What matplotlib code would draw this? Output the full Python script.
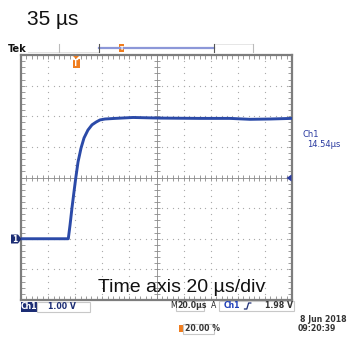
import matplotlib
matplotlib.use('Agg')
import matplotlib.pyplot as plt
from matplotlib.patches import Rectangle, Polygon
import numpy as np

# ---- data ----
time_us = [0, 34.9, 36.2, 37.6, 39.1, 40.4, 42.1, 44.3, 46.5, 49.4, 52.4, 55.4,
           58.3, 62.0, 69.4, 82.7, 102.6, 132.1, 154.2, 169.0, 183.8, 200]
volts = [0.0, 0.0, 0.45, 1.00, 1.53, 1.98, 2.51, 2.96, 3.29, 3.55, 3.72, 3.81,
         3.88, 3.91, 3.93, 3.96, 3.94, 3.93, 3.93, 3.90, 3.91, 3.93]
time_per_div = 20      # µs/div
volts_per_div = 1.0    # V/div
n_hdiv, n_vdiv = 10, 8
ground_div = -2        # ground marker position (divisions from centre)

title_text = '35 µs'
caption_text = 'Time axis 20 µs/div'
ch_scale = '1.00 V'
timebase = '20.0µs'
trig_level = '1.98 V'
trig_pos = '20.00 %'
meas_label = ['Ch1', '14.54µs']
date_lines = ['8 Jun 2018', '09:20:39']

W, H = 353, 338
fig = plt.figure(figsize=(W / 100, H / 100), dpi=100)
fig.patch.set_facecolor('white')

# ---- scope screen ----
L, T, R, B = 21, 55, 292, 300
ax = fig.add_axes([L / W, 1 - B / H, (R - L) / W, (B - T) / H])
xmax = n_hdiv * time_per_div
ymin = (-n_vdiv / 2 - ground_div) * volts_per_div
ymax = ymin + n_vdiv * volts_per_div
ax.set_xlim(0, xmax)
ax.set_ylim(ymin, ymax)
ax.set_facecolor('white')
for s in ax.spines.values():
    s.set_color('#7d7d7d')
    s.set_linewidth(1.6)
ax.set_xticks(np.arange(0, xmax + 0.1, time_per_div))
ax.set_xticks(np.arange(0, xmax + 0.1, time_per_div / 5), minor=True)
ax.set_yticks(np.arange(ymin, ymax + 0.01, volts_per_div))
ax.set_yticks(np.arange(ymin, ymax + 0.01, volts_per_div / 5), minor=True)
ax.tick_params(which='both', direction='in', top=True, right=True, length=3,
               width=0.6, color='#8a8a8a', labelbottom=False, labelleft=False)

dot_c = '#a8a8a8'
xc = xmax / 2
yc = (ymin + ymax) / 2
yy = np.arange(ymin, ymax + 0.01, volts_per_div / 5)
xx = np.arange(0, xmax + 0.1, time_per_div / 5)
for t in np.arange(time_per_div, xmax, time_per_div):
    if abs(t - xc) > 1e-6:
        ax.plot([t] * len(yy), yy, ls='none', marker='o', ms=0.9, mew=0, color=dot_c)
for v in np.arange(ymin + volts_per_div, ymax, volts_per_div):
    if abs(v - yc) > 1e-6:
        ax.plot(xx, [v] * len(xx), ls='none', marker='o', ms=0.9, mew=0, color=dot_c)
ax.axhline(yc, color='#8a8a8a', lw=0.6)
ax.axvline(xc, color='#8a8a8a', lw=0.6)
ax.plot(xx, [yc] * len(xx), ls='none', marker='|', ms=4, mew=0.6, color='#8a8a8a')
ax.plot([xc] * len(yy), yy, ls='none', marker='_', ms=4, mew=0.6, color='#8a8a8a')

ax.plot(time_us, volts, color='#2b4aa8', lw=2.1, solid_joinstyle='round', zorder=5)

# ---- overlay in pixel coordinates ----
ov = fig.add_axes([0, 0, 1, 1], zorder=10)
ov.set_xlim(0, W)
ov.set_ylim(H, 0)
ov.axis('off')
ov.patch.set_alpha(0)

ov.text(27, 25, title_text, fontsize=15, family='Liberation Sans', va='baseline', ha='left', color='#111')
ov.text(98, 292.5, caption_text, fontsize=14, family='Liberation Sans', va='baseline', ha='left', color='#111')

ov.text(8, 52, 'Tek', fontsize=7, weight='bold', va='baseline', ha='left', color='#111')
ov.plot([28, 99], [51.5, 51.5], color='#dddddd', lw=0.6)
ov.plot([214, 253], [44, 44], color='#e2e2e2', lw=0.6)
ov.plot([99, 214], [48, 48], color='#8c97d8', lw=1.6)
for xb in (99, 214):
    ov.plot([xb, xb], [44, 52], color='#555555', lw=0.8)
for xb in (59, 253):
    ov.plot([xb, xb], [44, 52], color='#bbbbbb', lw=0.8)

orange = '#f07d1e'
ov.add_patch(Rectangle((118.5, 44), 5, 8, color=orange, lw=0))
ov.text(121, 48.3, 'T', fontsize=4.5, weight='bold', color='white', ha='center', va='center')
ov.add_patch(Polygon([(73, 56), (79, 56), (76, 59)], color=orange, lw=0))
ov.add_patch(Rectangle((72.5, 58.5), 7, 9, color=orange, lw=0))
ov.text(76, 63.2, 'T', fontsize=5.5, weight='bold', color='white', ha='center', va='center')

blue = '#2a3aa0'
ov.text(302.5, 137, meas_label[0], fontsize=6, color=blue, va='baseline', ha='left')
ov.text(307.5, 147, meas_label[1], fontsize=6, color=blue, va='baseline', ha='left')
ov.add_patch(Polygon([(286.5, 178), (291.5, 174.5), (291.5, 181.5)], color=blue, lw=0))

navy = '#1c2d74'
ov.add_patch(Polygon([(11, 234.5), (18, 234.5), (21.5, 239), (18, 243.5), (11, 243.5)], color=navy, lw=0))
ov.text(15, 239.3, '1', fontsize=5.5, weight='bold', color='white', ha='center', va='center')

fs = 5.6
ov.add_patch(Rectangle((21, 301.5), 16, 10, color=navy, lw=0))
ov.text(29, 306.8, 'Ch1', fontsize=fs, weight='bold', color='white', ha='center', va='center')
ov.add_patch(Rectangle((37, 301.5), 53, 10, fill=False, ec='#c8c8c8', lw=0.8))
ov.text(48, 306.8, ch_scale, fontsize=fs, weight='bold', color=navy, ha='left', va='center')

ov.text(170.5, 306, 'M', fontsize=fs, color='#222', ha='left', va='center')
ov.add_patch(Rectangle((176, 300.5), 28, 10, fill=False, ec='#c8c8c8', lw=0.8))
ov.text(177.5, 306, timebase, fontsize=fs, weight='bold', color='#333', ha='left', va='center')
ov.text(211, 306, 'A', fontsize=fs, color='#222', ha='left', va='center')
ov.add_patch(Rectangle((218.5, 300.5), 75, 10, fill=False, ec='#c8c8c8', lw=0.8))
ov.text(224, 306, 'Ch1', fontsize=fs, weight='bold', color='#2040b8', ha='left', va='center')
ov.plot([244.5, 246.8, 248.6, 250.8], [309, 309, 303, 303], color=navy, lw=0.9)
ov.text(265, 306, trig_level, fontsize=fs, weight='bold', color='#333', ha='left', va='center')

ov.add_patch(Rectangle((179, 324.5), 4.3, 7, color=orange, lw=0))
ov.add_patch(Rectangle((183.3, 323.5), 31, 10, fill=False, ec='#c8c8c8', lw=0.8))
ov.text(185, 328.7, trig_pos, fontsize=fs, weight='bold', color='#333', ha='left', va='center')

ov.text(300, 319.5, date_lines[0], fontsize=fs, weight='bold', color='#333', ha='left', va='center')
ov.text(298, 328.5, date_lines[1], fontsize=fs, weight='bold', color='#333', ha='left', va='center')

fig.savefig('out.png', dpi=100)
